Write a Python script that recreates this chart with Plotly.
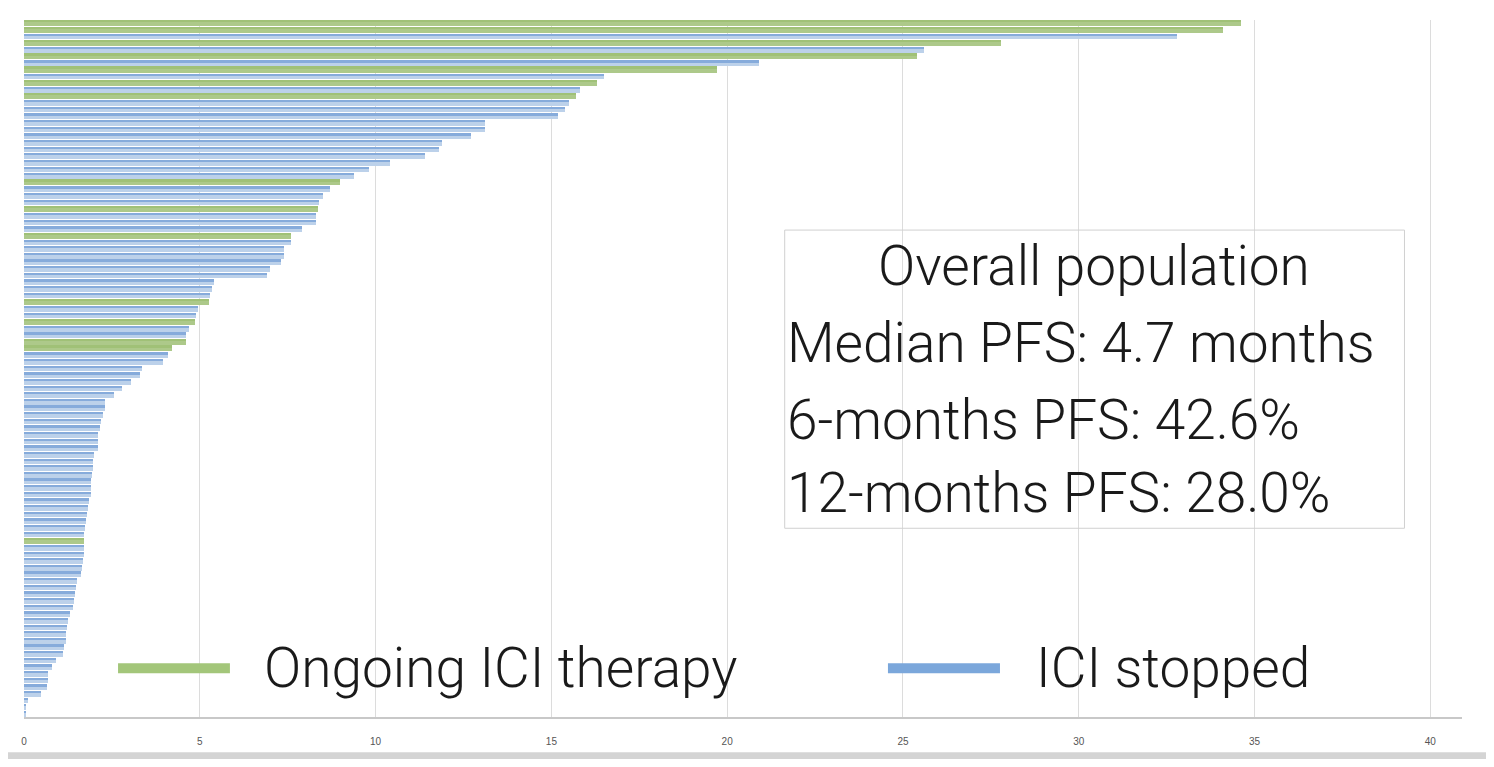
import plotly.graph_objects as go

# PFS per patient (months), top to bottom
pfs_months = [
    34.6, 34.1, 32.8, 27.8, 25.6, 25.4, 20.9, 19.7, 16.5, 16.3,
    15.8, 15.7, 15.5, 15.4, 15.2, 13.1, 13.1, 12.7, 11.9, 11.8,
    11.4, 10.4, 9.8, 9.4, 9.0, 8.7, 8.5, 8.4, 8.35, 8.3,
    8.3, 7.9, 7.6, 7.6, 7.4, 7.4, 7.3, 7.0, 6.9, 5.4,
    5.35, 5.3, 5.25, 4.95, 4.9, 4.85, 4.7, 4.6, 4.6, 4.2,
    4.1, 3.95, 3.35, 3.3, 3.05, 2.8, 2.55, 2.3, 2.3, 2.25,
    2.2, 2.15, 2.1, 2.1, 2.1, 2.0, 1.95, 1.95, 1.92, 1.9,
    1.9, 1.9, 1.86, 1.82, 1.8, 1.75, 1.74, 1.72, 1.72, 1.72,
    1.71, 1.67, 1.65, 1.62, 1.5, 1.48, 1.46, 1.43, 1.38, 1.3,
    1.26, 1.22, 1.2, 1.2, 1.15, 1.1, 0.9, 0.8, 0.67, 0.67,
    0.65, 0.48, 0.1, 0.03, 0.03,
]
# rows (1-based) where ICI therapy is still ongoing
ongoing_rows = [1, 2, 4, 6, 8, 10, 12, 25, 29, 33, 43, 46, 49, 50, 79]

x_ticks = [0, 5, 10, 15, 20, 25, 30, 35, 40]
legend_labels = ["Ongoing ICI therapy", "ICI stopped"]
box_title = "Overall population"
box_lines = ["Median PFS: 4.7 months", "6-months PFS: 42.6%", "12-months PFS: 28.0%"]

GREEN = "#adc98a"
GREEN_DARK = "#a0c177"
BLUE_LIGHT = "#bcd1ea"
BLUE_DARK = "#86abdb"
TEXT_FONT = "Roboto, Helvetica Neue, Arial, sans-serif"
TEXT_SIZE = 55

rows = list(range(1, len(pfs_months) + 1))
g_rows = [r for r in rows if r in ongoing_rows]
g_vals = [pfs_months[r - 1] for r in g_rows]
b_rows = [r for r in rows if r not in ongoing_rows]
b_vals = [pfs_months[r - 1] for r in b_rows]

fig = go.Figure()
fig.add_trace(go.Bar(x=b_vals, y=b_rows, orientation="h", width=0.86, offset=-0.43,
                     marker=dict(color=BLUE_LIGHT, line=dict(width=0)), name="ICI stopped"))
fig.add_trace(go.Bar(x=b_vals, y=b_rows, orientation="h", width=0.34, offset=-0.43,
                     marker=dict(color=BLUE_DARK, line=dict(width=0)), showlegend=False))
fig.add_trace(go.Bar(x=g_vals, y=g_rows, orientation="h", width=0.86, offset=-0.43,
                     marker=dict(color=GREEN, line=dict(width=0)), name="Ongoing ICI therapy"))
fig.add_trace(go.Bar(x=g_vals, y=g_rows, orientation="h", width=0.3, offset=-0.43,
                     marker=dict(color=GREEN_DARK, line=dict(width=0)), showlegend=False))

# page has an 8px body margin, so the figure is 16px smaller than the window
fig.update_layout(
    width=1478,
    height=751,
    margin=dict(l=16, r=24, t=12, b=42),
    paper_bgcolor="white",
    plot_bgcolor="white",
    barmode="overlay",
    bargap=0,
    showlegend=False,
    xaxis=dict(
        range=[0, 40.9],
        tickvals=x_ticks,
        showgrid=True,
        gridcolor="#dcdcdc",
        gridwidth=1,
        zeroline=False,
        showline=True,
        linecolor="#c8c8c8",
        linewidth=2,
        ticks="",
        ticklabelstandoff=14,
        tickfont=dict(family="Liberation Sans Narrow, Arial Narrow, sans-serif", size=10, color="#555555"),
    ),
    yaxis=dict(
        range=[len(pfs_months) + 0.5, 0.5],
        showticklabels=False,
        showgrid=False,
        zeroline=False,
        showline=False,
        ticks="",
    ),
)

# text box
fig.add_shape(type="rect", xref="paper", yref="paper", x0=0.529, x1=0.960, y0=0.2708, y1=0.6986,
              line=dict(color="#d0d0d0", width=1), fillcolor="rgba(255,255,255,0)")
fig.add_annotation(text=box_title, xref="paper", yref="paper", x=0.744, y=0.647,
                   xanchor="center", yanchor="middle", showarrow=False,
                   font=dict(family=TEXT_FONT, size=TEXT_SIZE, color="#1a1a1a", weight=300))
for txt, yy in zip(box_lines, [0.536, 0.4257, 0.3209]):
    fig.add_annotation(text=txt, xref="paper", yref="paper", x=0.5295, y=yy,
                       xanchor="left", yanchor="middle", showarrow=False,
                       font=dict(family=TEXT_FONT, size=TEXT_SIZE, color="#1a1a1a", weight=300))

# legend
for (x0, x1, tx), col, lab in zip([(0.0654, 0.1432, 0.1655), (0.6008, 0.6787, 0.7025)],
                                  ["#a3c67a", "#7ba7db"], legend_labels):
    fig.add_shape(type="line", xref="paper", yref="paper", x0=x0, x1=x1, y0=0.0699, y1=0.0699,
                  line=dict(color=col, width=10))
    fig.add_annotation(text=lab, xref="paper", yref="paper", x=tx, y=0.0699,
                       xanchor="left", yanchor="middle", showarrow=False,
                       font=dict(family=TEXT_FONT, size=TEXT_SIZE, color="#1a1a1a", weight=300))

# window frame band at the bottom
fig.add_shape(type="rect", xref="paper", yref="paper", x0=-0.02, x1=1.03, y0=-0.07, y1=-0.0507,
              line=dict(width=0), fillcolor="#d4d4d4", layer="below")

fig.write_html("out.html")
